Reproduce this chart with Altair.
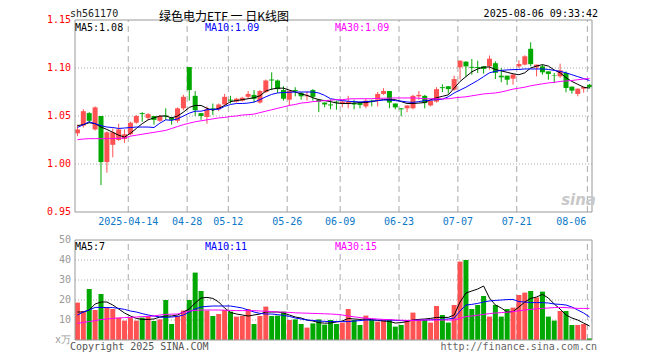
import altair as alt
import pandas as pd

# ---------------- data ----------------
opens = [1.032, 1.040, 1.053, 1.036, 1.050, 1.002, 1.020, 1.025, 1.026, 1.031,
         1.043, 1.053, 1.048, 1.050, 1.045, 1.0505, 1.048, 1.045, 1.058, 1.101,
         1.071, 1.053, 1.049, 1.058, 1.057, 1.062, 1.067, 1.065, 1.066, 1.070,
         1.072, 1.064, 1.075, 1.088, 1.087, 1.077, 1.067, 1.077, 1.074, 1.0705,
         1.077, 1.067, 1.064, 1.062, 1.065, 1.063, 1.0625, 1.0635, 1.064, 1.060,
         1.066, 1.067, 1.073, 1.076, 1.063, 1.058, 1.058, 1.058, 1.0705, 1.071,
         1.061, 1.065, 1.080, 1.081, 1.0774, 1.1007, 1.1066, 1.1012, 1.101, 1.1017,
         1.1017, 1.105, 1.092, 1.092, 1.0889, 1.1017, 1.1035, 1.120, 1.1007, 1.1017,
         1.0965, 1.0925, 1.0913, 1.0948, 1.0806, 1.0729, 1.0785, 1.0826]
highs = [1.041, 1.057, 1.054, 1.060, 1.050, 1.034, 1.037, 1.042, 1.036, 1.044,
         1.051, 1.054, 1.053, 1.050, 1.051, 1.058, 1.049, 1.059, 1.072, 1.101,
         1.076, 1.053, 1.060, 1.063, 1.063, 1.073, 1.071, 1.069, 1.070, 1.076,
         1.077, 1.077, 1.088, 1.0955, 1.088, 1.081, 1.077, 1.080, 1.075, 1.0757,
         1.078, 1.068, 1.064, 1.067, 1.066, 1.066, 1.071, 1.067, 1.065, 1.068,
         1.067, 1.075, 1.079, 1.076, 1.063, 1.058, 1.061, 1.072, 1.076, 1.072,
         1.066, 1.080, 1.083, 1.081, 1.092, 1.108, 1.107, 1.1094, 1.1076, 1.1017,
         1.113, 1.107, 1.100, 1.092, 1.0938, 1.108, 1.1132, 1.1267, 1.1035, 1.1035,
         1.0965, 1.0948, 1.1045, 1.0965, 1.0806, 1.0785, 1.0802, 1.0833]
lows = [1.029, 1.038, 1.043, 1.035, 0.978, 0.991, 1.007, 1.024, 1.022, 1.030,
        1.042, 1.044, 1.046, 1.041, 1.044, 1.046, 1.041, 1.043, 1.056, 1.066,
        1.050, 1.046, 1.042, 1.051, 1.055, 1.061, 1.063, 1.064, 1.065, 1.068,
        1.064, 1.063, 1.074, 1.077, 1.074, 1.066, 1.061, 1.0705, 1.067, 1.066,
        1.066, 1.054, 1.059, 1.057, 1.0565, 1.059, 1.058, 1.057, 1.058, 1.058,
        1.060, 1.060, 1.072, 1.058, 1.057, 1.0497, 1.054, 1.057, 1.067, 1.058,
        1.060, 1.064, 1.075, 1.0733, 1.0764, 1.088, 1.091, 1.0931, 1.0948, 1.0941,
        1.0983, 1.0885, 1.0851, 1.0823, 1.0826, 1.100, 1.1028, 1.1017, 1.0913, 1.0931,
        1.0878, 1.0844, 1.0896, 1.0747, 1.0733, 1.0705, 1.0743, 1.079]
closes = [1.036, 1.055, 1.045, 1.059, 1.002, 1.033, 1.033, 1.036, 1.031, 1.043,
          1.050, 1.052, 1.052, 1.046, 1.050, 1.0495, 1.046, 1.058, 1.070, 1.077,
          1.056, 1.050, 1.057, 1.057, 1.062, 1.070, 1.066, 1.068, 1.069, 1.073,
          1.068, 1.076, 1.087, 1.087, 1.078, 1.068, 1.076, 1.076, 1.0705, 1.0715,
          1.070, 1.065, 1.062, 1.061, 1.064, 1.065, 1.065, 1.062, 1.0615, 1.066,
          1.065, 1.073, 1.076, 1.064, 1.059, 1.057, 1.061, 1.071, 1.072, 1.0635,
          1.066, 1.078, 1.079, 1.078, 1.0885, 1.1076, 1.1017, 1.1002, 1.1000, 1.099,
          1.1097, 1.095, 1.0903, 1.0878, 1.0931, 1.1042, 1.1122, 1.104, 1.1035, 1.0955,
          1.0938, 1.092, 1.0976, 1.0792, 1.0764, 1.0785, 1.0802, 1.080]
ma5 = [1.040, 1.041, 1.043, 1.042, 1.0385, 1.036, 1.033, 1.030, 1.028, 1.032,
       1.037, 1.042, 1.046, 1.048, 1.050, 1.050, 1.048, 1.050, 1.054, 1.059,
       1.061, 1.061, 1.058, 1.056, 1.058, 1.061, 1.065, 1.066, 1.067, 1.068,
       1.069, 1.071, 1.076, 1.078, 1.079, 1.079, 1.077, 1.075, 1.073, 1.0715,
       1.069, 1.067, 1.066, 1.065, 1.0635, 1.063, 1.063, 1.0635, 1.064, 1.064,
       1.065, 1.066, 1.067, 1.067, 1.067, 1.065, 1.063, 1.063, 1.0635, 1.064,
       1.067, 1.069, 1.0705, 1.072, 1.079, 1.086, 1.091, 1.096, 1.099, 1.101,
       1.101, 1.0985, 1.097, 1.0955, 1.094, 1.093, 1.095, 1.100, 1.102, 1.1035,
       1.102, 1.098, 1.095, 1.090, 1.086, 1.083, 1.080, 1.079]
ma10 = [1.038, 1.041, 1.044, 1.042, 1.040, 1.0385, 1.038, 1.037, 1.0375, 1.038,
        1.0385, 1.0385, 1.0385, 1.038, 1.0425, 1.046, 1.0455, 1.047, 1.050, 1.053,
        1.055, 1.055, 1.0565, 1.057, 1.057, 1.060, 1.062, 1.063, 1.063, 1.0635,
        1.0645, 1.067, 1.070, 1.0725, 1.074, 1.0745, 1.0747, 1.075, 1.075, 1.075,
        1.075, 1.074, 1.0715, 1.068, 1.067, 1.066, 1.0653, 1.065, 1.0646, 1.065,
        1.0653, 1.066, 1.0667, 1.0667, 1.066, 1.0655, 1.0646, 1.0642, 1.065, 1.066,
        1.0665, 1.067, 1.0675, 1.070, 1.074, 1.077, 1.080, 1.0835, 1.087, 1.091,
        1.095, 1.0965, 1.0975, 1.098, 1.0983, 1.0985, 1.099, 1.099, 1.099, 1.099,
        1.0985, 1.0975, 1.0965, 1.095, 1.093, 1.091, 1.089, 1.087]
ma30 = [1.0253, 1.026, 1.0264, 1.0264, 1.0264, 1.0264, 1.0266, 1.0268, 1.027, 1.029,
        1.030, 1.031, 1.032, 1.033, 1.034, 1.035, 1.037, 1.039, 1.041, 1.0425,
        1.044, 1.045, 1.046, 1.047, 1.048, 1.0485, 1.0495, 1.050, 1.051, 1.0514,
        1.052, 1.0535, 1.055, 1.0565, 1.058, 1.0595, 1.061, 1.062, 1.0635, 1.064,
        1.065, 1.0655, 1.066, 1.0665, 1.067, 1.067, 1.0677, 1.068, 1.068, 1.068,
        1.068, 1.0684, 1.0685, 1.0686, 1.0688, 1.0688, 1.0688, 1.0688, 1.0685, 1.068,
        1.068, 1.0678, 1.0678, 1.068, 1.0688, 1.0695, 1.070, 1.071, 1.072, 1.073,
        1.0735, 1.074, 1.075, 1.0765, 1.078, 1.079, 1.080, 1.0815, 1.0825, 1.0835,
        1.0845, 1.085, 1.086, 1.0865, 1.087, 1.0878, 1.0885, 1.089]
volumes = [18.7, 14.5, 25.5, 15.0, 23.0, 16.2, 15.5, 11.2, 9.7, 11.2,
           9.7, 11.2, 12.0, 9.5, 10.3, 20.0, 8.0, 12.0, 14.7, 20.0,
           33.7, 24.5, 14.7, 12.0, 13.0, 15.0, 14.2, 11.7, 12.0, 15.5,
           8.0, 12.0, 16.7, 12.0, 12.2, 14.2, 10.0, 10.3, 8.0, 6.2,
           8.3, 10.3, 7.7, 10.0, 8.0, 8.7, 15.5, 10.0, 7.5, 12.2,
           10.0, 9.2, 10.0, 10.3, 6.7, 7.5, 10.0, 13.7, 10.3, 10.0,
           8.7, 17.0, 12.5, 8.7, 17.5, 39.2, 40.0, 15.5, 17.5, 22.0,
           11.7, 17.5, 11.7, 15.5, 16.2, 22.5, 23.7, 24.5, 21.3, 24.2,
           11.7, 9.7, 14.5, 14.5, 7.5, 7.5, 8.0, 0.8]
vma5 = [14, 14, 15, 18, 19, 19, 17.5, 15.5, 13.5, 12,
        10.8, 10.3, 10.3, 10.5, 11.5, 12, 12, 12.5, 14, 15.5,
        18.5, 21, 21.3, 20.8, 19, 16, 13.8, 13, 12.5, 12,
        12.5, 13, 14, 14, 14, 13.5, 12.5, 11.5, 11, 10,
        9.5, 8.7, 8.4, 8.5, 9, 9.5, 10.8, 10.5, 10.3, 10.5,
        10.2, 9.8, 9.5, 9.3, 8.5, 8.7, 9.2, 10, 10.3, 10.5,
        10.8, 11.3, 11.3, 11.3, 12.5, 19, 23.5, 24.5, 25.5, 27,
        21, 17.5, 16, 14, 14.2, 16.5, 19, 20.8, 21.5, 22.8,
        21, 18, 15.5, 12.5, 11, 10, 8.5, 7]
vma10 = [12.5, 14, 15, 16.3, 16.3, 16.2, 16.2, 15.8, 15.3, 14.5,
         14, 13.2, 12.5, 12, 11.5, 11.3, 11.5, 11.8, 12.5, 14,
         15.5, 16.5, 16.8, 17, 17, 17, 17, 16.5, 16, 15,
         14, 13.3, 13, 13, 12.7, 12.3, 11.8, 11, 10.5, 10,
         9.8, 9.5, 9.3, 9.2, 9.2, 9.2, 9.2, 9.5, 9.7, 10,
         10, 10, 10, 10, 9.8, 9.7, 9.7, 9.8, 9.9, 10,
         10.1, 10.2, 10.3, 10.5, 11, 14.5, 17.5, 17.8, 18.3, 19,
         19.5, 19.8, 20, 20.2, 20.3, 19.2, 19, 18.7, 18.7, 18.7,
         18.5, 18, 17.8, 17.5, 16.5, 15, 13.5, 11.5]
vma30 = [8.3, 8.8, 9.2, 9.7, 10.2, 10.5, 10.8, 11, 11.2, 11.3,
         11.5, 11.7, 11.8, 12, 12.5, 12.8, 12.9, 13, 13.8, 14.5,
         14.8, 15, 15, 15, 15, 14.9, 14.8, 14.7, 14.7, 14.7,
         14.7, 14.5, 14.4, 14.2, 14, 13.9, 13.8, 13.6, 13.5, 13.4,
         13.3, 13.2, 13.1, 13, 12.8, 12.5, 12, 11.6, 11.2, 10.9,
         10.7, 10.5, 10.3, 10.2, 10, 9.9, 9.8, 9.8, 9.9, 10,
         10, 10, 10, 10, 10, 10.8, 11.7, 12, 12.4, 12.8,
         13.2, 13.5, 13.7, 13.9, 14.2, 14.6, 15, 15.3, 15.6, 15.8,
         16, 16.2, 16.3, 16.2, 16, 15.8, 15.8, 15.8]

tick_idx = [9, 19, 26, 36, 45, 55, 65, 75, 87]
tick_labels = ["2025-04-14", "04-28", "05-12", "05-26", "06-09",
               "06-23", "07-07", "07-21", "08-06"]
price_ticks = [0.95, 1.00, 1.05, 1.10, 1.15]
vol_ticks = [0, 10, 20, 30, 40, 50]
vol_tick_text = ["x万", "10", "20", "30", "40", "50"]
price_ma_text = ["MA5:1.08", "MA10:1.09", "MA30:1.09"]
vol_ma_text = ["MA5:7", "MA10:11", "MA30:15"]
ma_colors = ["#000000", "#0000ff", "#ff00ff"]

# ---------------- styling ----------------
MONO = "DejaVu Sans Mono"
CJK = "Noto Sans CJK SC"
RED = "#ff5353"
GREEN = "#00a800"
GRID = "#aaaaaa"
FRAME = "#999999"

N = len(closes)
XMIN, XMAX = -5 / 12, N - 1 + 5 / 12

df = pd.DataFrame({
    "idx": list(range(N)), "open": opens, "high": highs, "low": lows,
    "close": closes, "ma5": ma5, "ma10": ma10, "ma30": ma30,
    "vol": volumes, "vma5": vma5, "vma10": vma10, "vma30": vma30,
})
df["dir"] = ["up" if c >= o else "down" for o, c in zip(opens, closes)]

grid_df = pd.DataFrame({"gx": [t - 0.37 for t in tick_idx], "lab": tick_labels,
                        "p0": 0.95, "p1": 1.15, "v0": 0.0, "v1": 50.0})
frame_df = pd.DataFrame({"x0": [XMIN], "x1": [XMAX], "p0": [0.95], "p1": [1.15],
                         "v0": [0.0], "v1": [50.0]})
ph_df = pd.DataFrame({"v": price_ticks[1:-1], "x0": XMIN, "x1": XMAX})
vh_df = pd.DataFrame({"v": vol_ticks[1:-1], "x0": XMIN, "x1": XMAX})
plab_df = pd.DataFrame({"v": price_ticks, "t": [f"{v:.2f}" for v in price_ticks], "x": XMIN})
vlab_df = pd.DataFrame({"v": vol_ticks, "t": vol_tick_text, "x": XMIN})

xs = alt.Scale(domain=[XMIN, XMAX], nice=False, zero=False)
ps = alt.Scale(domain=[0.95, 1.15], range=[192, 0], nice=False, zero=False)
vs = alt.Scale(domain=[0, 50], range=[320, 220], nice=False, zero=False)
cs = alt.Scale(domain=["up", "down"], range=[RED, GREEN])
COLOR = alt.Color("dir:N", scale=cs, legend=None)
X = alt.X("idx:Q", scale=xs, axis=None)


def txt(text, x, y, color, size=10, align="left", font=MONO, **kw):
    return alt.Chart(pd.DataFrame({"t": [text]})).mark_text(
        align=align, baseline="middle", font=font, fontSize=size, color=color, **kw
    ).encode(x=alt.value(x), y=alt.value(y), text="t:N")


def panel(scale, lo, hi, hdf, labdf, labcolor, o, h, l, c, mas, vol=None):
    layers = [
        alt.Chart(grid_df).mark_rule(color=GRID, strokeDash=[6, 4], strokeWidth=1).encode(
            x=alt.X("gx:Q", scale=xs, axis=None),
            y=alt.Y(f"{lo}:Q", scale=scale, axis=None), y2=f"{hi}:Q"),
        alt.Chart(hdf).mark_rule(color=GRID, strokeDash=[1, 2], strokeWidth=1).encode(
            x=alt.X("x0:Q", scale=xs, axis=None), x2="x1:Q",
            y=alt.Y("v:Q", scale=scale, axis=None)),
    ]
    if vol is None:
        layers += [
            alt.Chart(df).mark_rule(strokeWidth=1).encode(
                x=X, y=alt.Y(f"{l}:Q", scale=scale, axis=None), y2=f"{h}:Q", color=COLOR),
            alt.Chart(df).mark_bar(size=5).encode(
                x=X, y=alt.Y(f"{o}:Q", scale=scale, axis=None), y2=f"{c}:Q", color=COLOR),
        ]
    else:
        layers += [
            alt.Chart(df).mark_bar(size=5).encode(
                x=X, y=alt.Y(f"{vol}:Q", scale=scale, axis=None), color=COLOR),
        ]
    for field, col in zip(mas, ma_colors):
        layers.append(alt.Chart(df).mark_line(color=col, strokeWidth=1).encode(
            x=X, y=alt.Y(f"{field}:Q", scale=scale, axis=None)))
    layers += [
        alt.Chart(frame_df).mark_rect(fillOpacity=0, stroke=FRAME, strokeWidth=1).encode(
            x=alt.X("x0:Q", scale=xs, axis=None), x2="x1:Q",
            y=alt.Y(f"{lo}:Q", scale=scale, axis=None), y2=f"{hi}:Q"),
        alt.Chart(labdf).mark_text(align="right", baseline="middle", dx=-4, font=MONO,
                                   fontSize=10, color=labcolor).encode(
            x=alt.X("x:Q", scale=xs, axis=None),
            y=alt.Y("v:Q", scale=scale, axis=None), text="t:N"),
    ]
    return alt.layer(*layers)


price = panel(ps, "p0", "p1", ph_df, plab_df, "#ff0000",
              "open", "high", "low", "close", ["ma5", "ma10", "ma30"])
price = alt.layer(
    price,
    alt.Chart(grid_df.iloc[:-1]).mark_text(align="center", baseline="middle", dy=10,
                                           font=MONO, fontSize=10, color="#0b78c8").encode(
        x=alt.X("gx:Q", scale=xs, axis=None), y=alt.Y("p0:Q", scale=ps, axis=None), text="lab:N"),
    alt.Chart(grid_df.iloc[-1:]).mark_text(align="right", baseline="middle", dy=10, dx=-1,
                                           font=MONO, fontSize=10, color="#0b78c8").encode(
        x=alt.X("gx:Q", scale=xs, axis=None), y=alt.Y("p0:Q", scale=ps, axis=None), text="lab:N"),
    txt(price_ma_text[0], 5, 8, ma_colors[0]),
    txt(price_ma_text[1], 135, 8, ma_colors[1]),
    txt(price_ma_text[2], 265, 8, ma_colors[2]),
    txt("sh561170", 0, -6, "#222222"),
    txt("绿色电力ETF 一 日K线图", 154, -3.5, "#000000", size=12, align="center", font=CJK),
    txt("2025-08-06 09:33:42", 528, -6, "#000000", align="right"),
    txt("sina", 526, 180, "#c8c8c8", size=15, align="right", font="DejaVu Sans",
        fontStyle="italic", fontWeight="bold"),
)

vol = panel(vs, "v0", "v1", vh_df, vlab_df, "#999999",
            None, None, None, None, ["vma5", "vma10", "vma30"], vol="vol")
vol = alt.layer(
    vol,
    txt(vol_ma_text[0], 5, 227, ma_colors[0]),
    txt(vol_ma_text[1], 135, 227, ma_colors[1]),
    txt(vol_ma_text[2], 265, 227, ma_colors[2]),
    txt("Copyright 2025 SINA.COM", 0, 327, "#555555"),
    txt("http://finance.sina.com.cn", 527, 327, "#666666", align="right"),
)

chart = alt.layer(price, vol).resolve_scale(y="independent").properties(
    width=527, height=320,
    padding={"left": 62, "top": 12, "right": 50, "bottom": 14},
    autosize=alt.AutoSizeParams(type="none"),
).configure_view(stroke=None)

chart.save("out.html", embed_options={"renderer": "svg", "actions": False})
